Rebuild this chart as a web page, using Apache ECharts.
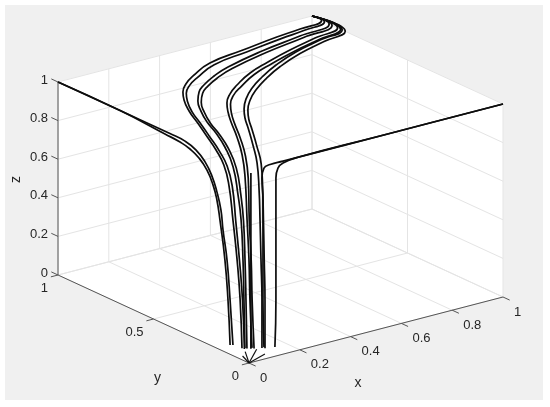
<!DOCTYPE html>
<html><head><meta charset="utf-8">
<script src="https://cdn.jsdelivr.net/npm/echarts@6/dist/echarts.min.js"></script>
<style>html,body{margin:0;padding:0;background:#fff}#c{width:550px;height:407px}</style>
</head><body><div id="c"></div>
<script>
// ---- axis ticks ----
const xTicks = [0, 0.2, 0.4, 0.6, 0.8, 1];
const yTicks = [0, 0.5, 1];
const zTicks = [0, 0.2, 0.4, 0.6, 0.8, 1];
const xTickLabels = ['0', '0.2', '0.4', '0.6', '0.8', '1'];
const yTickLabels = ['0', '0.5', '1'];
const zTickLabels = ['0', '0.2', '0.4', '0.6', '0.8', '1'];
const axisNames = ['x', 'y', 'z'];

// ---- streamlines, [x, y, z] ----
const curveA1 = [[0,1,1],[0,0.675,1],[0,0.414,1],[0,0.335,0.997],[0,0.277,0.977],[0,0.23,0.937],[0,0.194,0.88],[0,0.168,0.81],[0,0.147,0.726],[0,0.136,0.627],[0,0.115,0.481],[0,0.099,0.281],[0,0.084,0.055]];
const curveA2 = [[0,1,1],[0,0.675,1],[0,0.44,0.986],[0,0.361,0.98],[0,0.309,0.968],[0,0.262,0.943],[0,0.22,0.899],[0,0.188,0.836],[0,0.168,0.768],[0,0.152,0.671],[0,0.126,0.476],[0,0.11,0.276],[0,0.099,0.048]];
const curveC1a = [[0.01,0.05,0.05],[0.01,0.06,0.30],[0.01,0.076,0.5],[0.01,0.097,0.69],[0.078,0.209,0.80],[0.122,0.294,0.85],[0.153,0.376,0.88],[0.178,0.462,0.91],[0.205,0.545,0.93],[0.219,0.605,0.955],[0.245,0.666,0.975],[0.27,0.705,0.99],[0.311,0.744,1],[0.373,0.789,1],[0.486,0.851,1],[0.64,0.883,1],[0.797,0.914,1],[0.899,0.928,1],[1,0.95,1],[1,1,1]];
const curveC1b = [[0.012,0.04,0.05],[0.012,0.05,0.30],[0.012,0.066,0.5],[0.012,0.085,0.69],[0.08,0.194,0.80],[0.124,0.279,0.85],[0.155,0.361,0.88],[0.18,0.447,0.91],[0.207,0.53,0.93],[0.221,0.591,0.955],[0.247,0.651,0.975],[0.272,0.69,0.99],[0.313,0.727,1],[0.375,0.769,1],[0.488,0.831,1],[0.642,0.863,1],[0.799,0.894,1],[0.9,0.91,1],[1,0.935,1],[1,1,1]];
const curveC2a = [[0.02,0.048,0.049],[0.02,0.053,0.296],[0.02,0.058,0.499],[0.02,0.068,0.703],[0.068,0.148,0.78],[0.145,0.276,0.84],[0.202,0.395,0.87],[0.224,0.471,0.90],[0.241,0.54,0.92],[0.259,0.596,0.945],[0.28,0.64,0.97],[0.311,0.675,0.99],[0.351,0.703,1],[0.426,0.749,1],[0.51,0.788,1],[0.683,0.84,1],[0.86,0.877,1],[1,0.91,1],[1,1,1]];
const curveC2b = [[0.022,0.04,0.049],[0.022,0.045,0.296],[0.022,0.05,0.499],[0.022,0.058,0.703],[0.07,0.135,0.78],[0.147,0.262,0.84],[0.204,0.38,0.87],[0.226,0.456,0.90],[0.243,0.525,0.92],[0.261,0.581,0.945],[0.282,0.625,0.97],[0.313,0.659,0.99],[0.353,0.686,1],[0.428,0.731,1],[0.512,0.769,1],[0.685,0.821,1],[0.862,0.86,1],[1,0.895,1],[1,1,1]];
const curveC3a = [[0.03,0.024,0.057],[0.03,0.035,0.30],[0.03,0.04,0.506],[0.03,0.05,0.708],[0.11,0.167,0.85],[0.17,0.262,0.90],[0.224,0.361,0.93],[0.27,0.453,0.95],[0.301,0.51,0.965],[0.326,0.549,0.985],[0.37,0.592,0.997],[0.434,0.64,1],[0.533,0.703,1],[0.638,0.749,1],[0.759,0.795,1],[0.887,0.834,1],[1,0.866,1],[1,1,1]];
const curveC3b = [[0.032,0.016,0.057],[0.032,0.026,0.30],[0.032,0.031,0.506],[0.032,0.041,0.708],[0.112,0.153,0.85],[0.172,0.247,0.90],[0.226,0.346,0.93],[0.272,0.438,0.95],[0.303,0.495,0.965],[0.328,0.533,0.985],[0.372,0.576,0.997],[0.436,0.621,1],[0.535,0.684,1],[0.64,0.73,1],[0.761,0.776,1],[0.889,0.815,1],[1,0.85,1],[1,1,1]];
const curveC4a = [[0.06,0.012,0.052],[0.06,0.012,0.30],[0.06,0.017,0.505],[0.06,0.022,0.708],[0.06,0.027,0.863],[0.143,0.148,0.92],[0.199,0.244,0.95],[0.259,0.349,0.97],[0.297,0.416,0.978],[0.331,0.466,0.99],[0.381,0.522,1],[0.456,0.59,1],[0.541,0.651,1],[0.642,0.712,1],[0.763,0.769,1],[0.889,0.81,1],[1,0.842,1],[1,1,1]];
const curveC4b = [[0.066,0.004,0.052],[0.066,0.004,0.30],[0.066,0.008,0.505],[0.066,0.012,0.708],[0.066,0.016,0.863],[0.148,0.133,0.92],[0.203,0.229,0.95],[0.262,0.333,0.97],[0.3,0.4,0.978],[0.334,0.45,0.99],[0.384,0.505,1],[0.458,0.571,1],[0.543,0.632,1],[0.644,0.693,1],[0.765,0.75,1],[0.891,0.792,1],[1,0.826,1],[1,1,1]];
const curveB1 = [[0.059,0,0.062],[0.055,0,0.307],[0.055,0,0.567],[0.055,0,0.826],[0.051,0,0.941],[0.059,0,0.99],[0.083,0,1],[0.134,0,1],[0.4,0,1],[0.7,0,1],[1,0,1]];
const curveB2 = [[0.102,0,0.048],[0.106,0,0.29],[0.106,0,0.549],[0.106,0,0.808],[0.106,0,0.922],[0.114,0,0.971],[0.134,0,0.991],[0.2,0,1],[0.5,0,1],[1,0,1]];
const curveS = [[0.03,0.03,0.05],[0.03,0.03,0.5],[0.03,0.03,0.96]];
const quiverStart = [[0,0,0],[0,0,0],[0,0,0],[0,0,0]];
const quiverEnd = [[0.094,0.085,0],[0.089,0.035,0],[0.022,0.063,0],[0,0.02,0.05]];

const curves = [curveA1, curveA2, curveC1a, curveC1b, curveC2a, curveC2b, curveC3a, curveC3b, curveC4a, curveC4b, curveB1, curveB2, curveS];

// ---- 3D -> 2D view (MATLAB default view(3), stretched to fill) ----
const ORIGIN = [249, 363], EX = [254, -66], EY = [-191, -88], EZ = [0, -193];
function proj(p) {
  return [ORIGIN[0] + p[0]*EX[0] + p[1]*EY[0] + p[2]*EZ[0],
          ORIGIN[1] + p[0]*EX[1] + p[1]*EY[1] + p[2]*EZ[1]];
}

const FONT = '13px "Liberation Sans", Arial, Helvetica, sans-serif';
const TITLE_FONT = '14px "Liberation Sans", Arial, Helvetica, sans-serif';
const TXT = '#262626';

function renderFrame(params, api) {
  const P = p => api.coord(proj(p));
  const ch = [];
  const faces = [
    [[0,0,0],[1,0,0],[1,1,0],[0,1,0]],
    [[0,1,0],[1,1,0],[1,1,1],[0,1,1]],
    [[1,0,0],[1,1,0],[1,1,1],[1,0,1]]
  ];
  faces.forEach(f => ch.push({type:'polygon', shape:{points:f.map(P)}, style:{fill:'#ffffff', stroke:'#ffffff', lineWidth:0.5}}));
  const seg = [];
  xTicks.forEach(x => { seg.push([[x,0,0],[x,1,0]]); seg.push([[x,1,0],[x,1,1]]); });
  yTicks.forEach(y => { seg.push([[0,y,0],[1,y,0]]); seg.push([[1,y,0],[1,y,1]]); });
  zTicks.forEach(z => { seg.push([[0,1,z],[1,1,z]]); seg.push([[1,0,z],[1,1,z]]); });
  seg.forEach(s => { const a=P(s[0]), b=P(s[1]);
    ch.push({type:'line', shape:{x1:a[0],y1:a[1],x2:b[0],y2:b[1]}, style:{stroke:'#e4e4e4', lineWidth:1}}); });
  const axes = [[[0,0,0],[1,0,0]],[[0,0,0],[0,1,0]],[[0,1,0],[0,1,1]]];
  axes.forEach(s => { const a=P(s[0]), b=P(s[1]);
    ch.push({type:'line', shape:{x1:a[0],y1:a[1],x2:b[0],y2:b[1]}, style:{stroke:'#555555', lineWidth:1}}); });
  xTicks.forEach((x,i) => { const a=P([x,0,0]), b=P([x,-0.035,0]);
    ch.push({type:'line', shape:{x1:a[0],y1:a[1],x2:b[0],y2:b[1]}, style:{stroke:'#555555', lineWidth:1}});
    ch.push({type:'text', x:a[0]+11, y:a[1]+15, style:{text:xTickLabels[i], fill:TXT, font:FONT, align:'left', verticalAlign:'middle'}}); });
  yTicks.forEach((y,i) => { const a=P([0,y,0]), b=P([-0.028,y,0]);
    ch.push({type:'line', shape:{x1:a[0],y1:a[1],x2:b[0],y2:b[1]}, style:{stroke:'#555555', lineWidth:1}});
    ch.push({type:'text', x:a[0]-10, y:a[1]+13, style:{text:yTickLabels[i], fill:TXT, font:FONT, align:'right', verticalAlign:'middle'}}); });
  zTicks.forEach((z,i) => { const a=P([0,1,z]), b=P([0,1.035,z]);
    ch.push({type:'line', shape:{x1:a[0],y1:a[1],x2:b[0],y2:b[1]}, style:{stroke:'#555555', lineWidth:1}});
    ch.push({type:'text', x:a[0]-10, y:a[1]-2, style:{text:zTickLabels[i], fill:TXT, font:FONT, align:'right', verticalAlign:'middle'}}); });
  const mx = P([0.5,0,0]), my = P([0,0.5,0]), mz = P([0,1,0.5]);
  ch.push({type:'text', x:mx[0]-18, y:mx[1]+53, style:{text:axisNames[0], fill:TXT, font:TITLE_FONT, align:'center', verticalAlign:'middle'}});
  ch.push({type:'text', x:my[0]+4, y:my[1]+59, style:{text:axisNames[1], fill:TXT, font:TITLE_FONT, align:'center', verticalAlign:'middle'}});
  ch.push({type:'text', x:mz[0]-42, y:mz[1]+1, rotation:Math.PI/2, style:{text:axisNames[2], fill:TXT, font:TITLE_FONT, align:'center', verticalAlign:'middle'}});
  quiverStart.forEach((s,i) => { const a=P(s), b=P(quiverEnd[i]);
    ch.push({type:'line', shape:{x1:a[0],y1:a[1],x2:b[0],y2:b[1]}, style:{stroke:'#111', lineWidth:1.2}}); });
  return {type:'group', children:ch};
}

const series = [{
  type:'custom', data:[[0,0]], renderItem:renderFrame, clip:false, silent:true, z:1
}];
curves.forEach(c => series.push({
  type:'line', data:c.map(proj), smooth:0.5, showSymbol:false, symbol:'none', clip:false, silent:true, z:3,
  lineStyle:{color:'#0d0d0d', width:1.7}
}));

const chart = echarts.init(document.getElementById('c'), null, {renderer:'canvas'});
chart.setOption({
  animation:false,
  backgroundColor:'#ffffff',
  graphic:[{type:'rect', z:-100, shape:{x:5, y:5, width:538, height:395}, style:{fill:'#f0f0f0'}}],
  grid:{left:0, right:0, top:0, bottom:0},
  xAxis:{type:'value', min:0, max:550, show:false},
  yAxis:{type:'value', min:0, max:407, inverse:true, show:false},
  series:series
});
</script></body></html>
